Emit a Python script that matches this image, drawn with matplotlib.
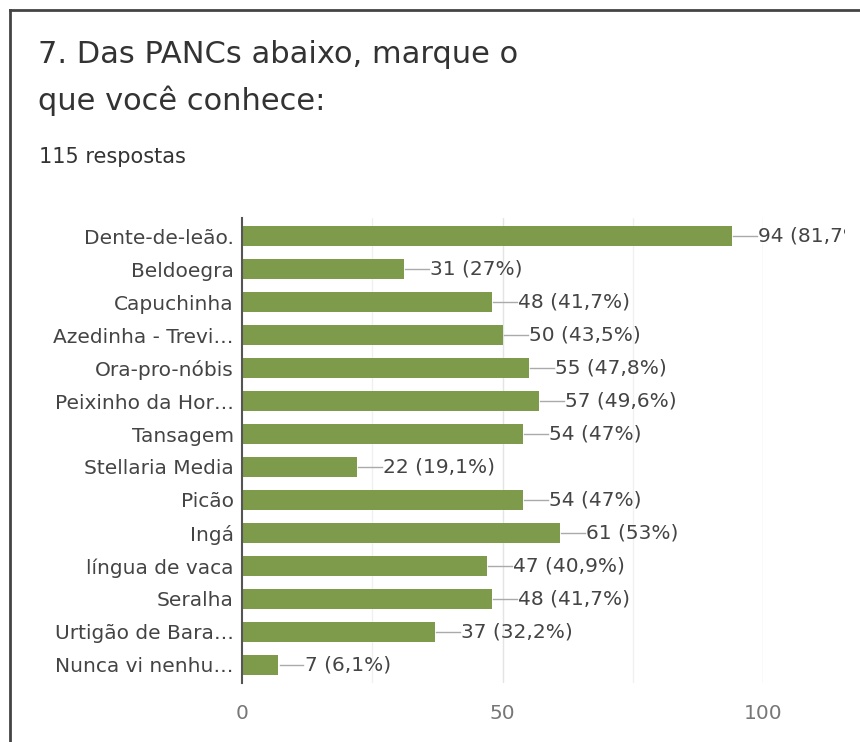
import matplotlib.pyplot as plt
from matplotlib.transforms import Bbox
from matplotlib.lines import Line2D

plt.rcParams['font.family'] = ['DejaVu Sans']

title_lines = ["7. Das PANCs abaixo, marque o", "que você conhece:"]
subtitle = "115 respostas"
categories = ['Dente-de-leão.', 'Beldoegra', 'Capuchinha', 'Azedinha - Trevi…',
              'Ora-pro-nóbis', 'Peixinho da Hor…', 'Tansagem', 'Stellaria Media',
              'Picão', 'Ingá', 'língua de vaca', 'Seralha', 'Urtigão de Bara…',
              'Nunca vi nenhu…']
counts = [94, 31, 48, 50, 55, 57, 54, 22, 54, 61, 47, 48, 37, 7]
percents = ['81,7%', '27%', '41,7%', '43,5%', '47,8%', '49,6%', '47%', '19,1%',
            '47%', '53%', '40,9%', '41,7%', '32,2%', '6,1%']
xticks = [0, 50, 100]

W, H = 860, 742
fig = plt.figure(figsize=(W / 100, H / 100), dpi=100)
fig.patch.set_facecolor('white')

# screenshot frame (left and top edges)
fig.add_artist(Line2D([9.5 / W, 9.5 / W], [0, 1 - 10 / H], transform=fig.transFigure,
                      color='#444444', lw=2))
fig.add_artist(Line2D([9.5 / W, 1], [1 - 10 / H, 1 - 10 / H], transform=fig.transFigure,
                      color='#444444', lw=2))

fig.text(38 / W, 1 - 63 / H, title_lines[0], fontsize=22, color='#333333',
         va='baseline', ha='left')
fig.text(38 / W, 1 - 110 / H, title_lines[1], fontsize=22, color='#333333',
         va='baseline', ha='left')
fig.text(39 / W, 1 - 163 / H, subtitle, fontsize=15, color='#333333',
         va='baseline', ha='left')

left, right, top, bottom = 242, 763, 218, 683
ax = fig.add_axes([left / W, 1 - bottom / H, (right - left) / W, (bottom - top) / H])
y = list(range(len(categories)))
ax.barh(y, counts, height=0.6, color='#7e9a4b', zorder=3)
ax.set_xlim(0, 100)
ax.set_ylim(len(categories) - 0.45, -0.55)

for xv in [25, 50, 75, 100]:
    ax.axvline(xv, color='#f0f0f0' if xv in (25, 75) else '#e4e4e4', lw=1, zorder=1)

for s in ['top', 'right', 'bottom']:
    ax.spines[s].set_visible(False)
ax.spines['left'].set_color('#555555')
ax.spines['left'].set_linewidth(1.5)
ax.spines['left'].set_zorder(4)

lab_font = dict(size=14.5)
ax.set_yticks(y)
ax.set_yticklabels(categories, color='#444444', fontdict=lab_font)
ax.tick_params(axis='y', length=0, pad=6)
ax.set_xticks(xticks)
ax.set_xticklabels([str(t) for t in xticks], color='#777777', fontdict=lab_font)
ax.tick_params(axis='x', length=0, pad=15)

# the screenshot cuts the longest label at its right edge
clip = Bbox.from_extents(0, 0, 845, H)
for yi, c, p in zip(y, counts, percents):
    ax.plot([c + 0.2, c + 4.8], [yi, yi], color='#aaaaaa', lw=1, zorder=3, clip_on=False)
    t = ax.text(c + 5.0, yi, f"{c} ({p})", color='#444444',
                va='center', ha='left', fontdict=lab_font)
    t.set_clip_box(clip)
    t.set_clip_on(True)

fig.savefig('out.png', dpi=100, facecolor='white')
